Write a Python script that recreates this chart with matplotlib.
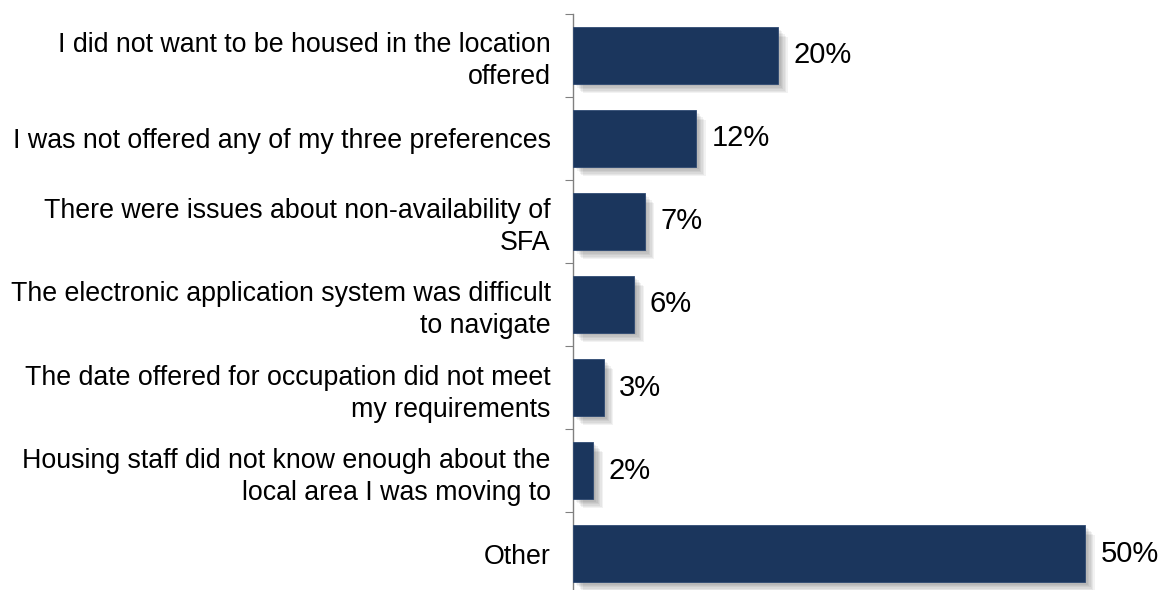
import matplotlib
matplotlib.use("Agg")
import matplotlib.pyplot as plt
import matplotlib.patheffects as pe

categories = [
    "I did not want to be housed in the location\noffered",
    "I was not offered any of my three preferences",
    "There were issues about non-availability of\nSFA",
    "The electronic application system was difficult\nto navigate",
    "The date offered for occupation did not meet\nmy requirements",
    "Housing staff did not know enough about the\nlocal area I was moving to",
    "Other",
]
values = [20, 12, 7, 6, 3, 2, 50]
value_labels = ["20%", "12%", "7%", "6%", "3%", "2%", "50%"]

plt.rcParams['font.family'] = ['Liberation Sans', 'DejaVu Sans']

fig = plt.figure(figsize=(11.63, 5.90), dpi=100)
ax = fig.add_axes([0.4927, -0.0085, 0.5019, 0.9848])

n = len(categories)
ypos = list(range(n))
bar_color = "#1b365d"

# soft drop shadow built from stacked translucent layers
shadow = [pe.SimplePatchShadow(offset=(o, -o), shadow_rgbFace="#000000", alpha=0.05)
          for o in (1, 2, 3, 4, 5, 6, 7)]
bars = ax.barh(ypos, values, height=0.68, color=bar_color,
               edgecolor="#2f4a73", linewidth=0.6, zorder=3)
for b in bars:
    b.set_path_effects(shadow + [pe.Normal()])

for y, v, lab in zip(ypos, values, value_labels):
    ax.text(v + 1.5, y, lab, va="center", ha="left", fontsize=21, color="black")

ax.set_ylim(n - 0.5, -0.5)
ax.set_xlim(0, 57)
ax.set_yticks([i - 0.5 for i in range(n + 1)])
ax.set_yticklabels([])
ax.set_yticks(ypos, minor=True)
ax.set_yticklabels(categories, minor=True, fontsize=19.3, linespacing=1.3)
ax.tick_params(axis="y", which="minor", length=0, pad=16)
ax.tick_params(axis="y", which="major", length=6, color="#808080", direction="out")
ax.set_xticks([])
for s in ("top", "right", "bottom"):
    ax.spines[s].set_visible(False)
ax.spines["left"].set_color("#808080")
ax.spines["left"].set_linewidth(1.0)
for t in ax.get_yticklabels(minor=True):
    t.set_horizontalalignment("right")
    t.set_multialignment("right")

fig.savefig("out.png", dpi=100)
